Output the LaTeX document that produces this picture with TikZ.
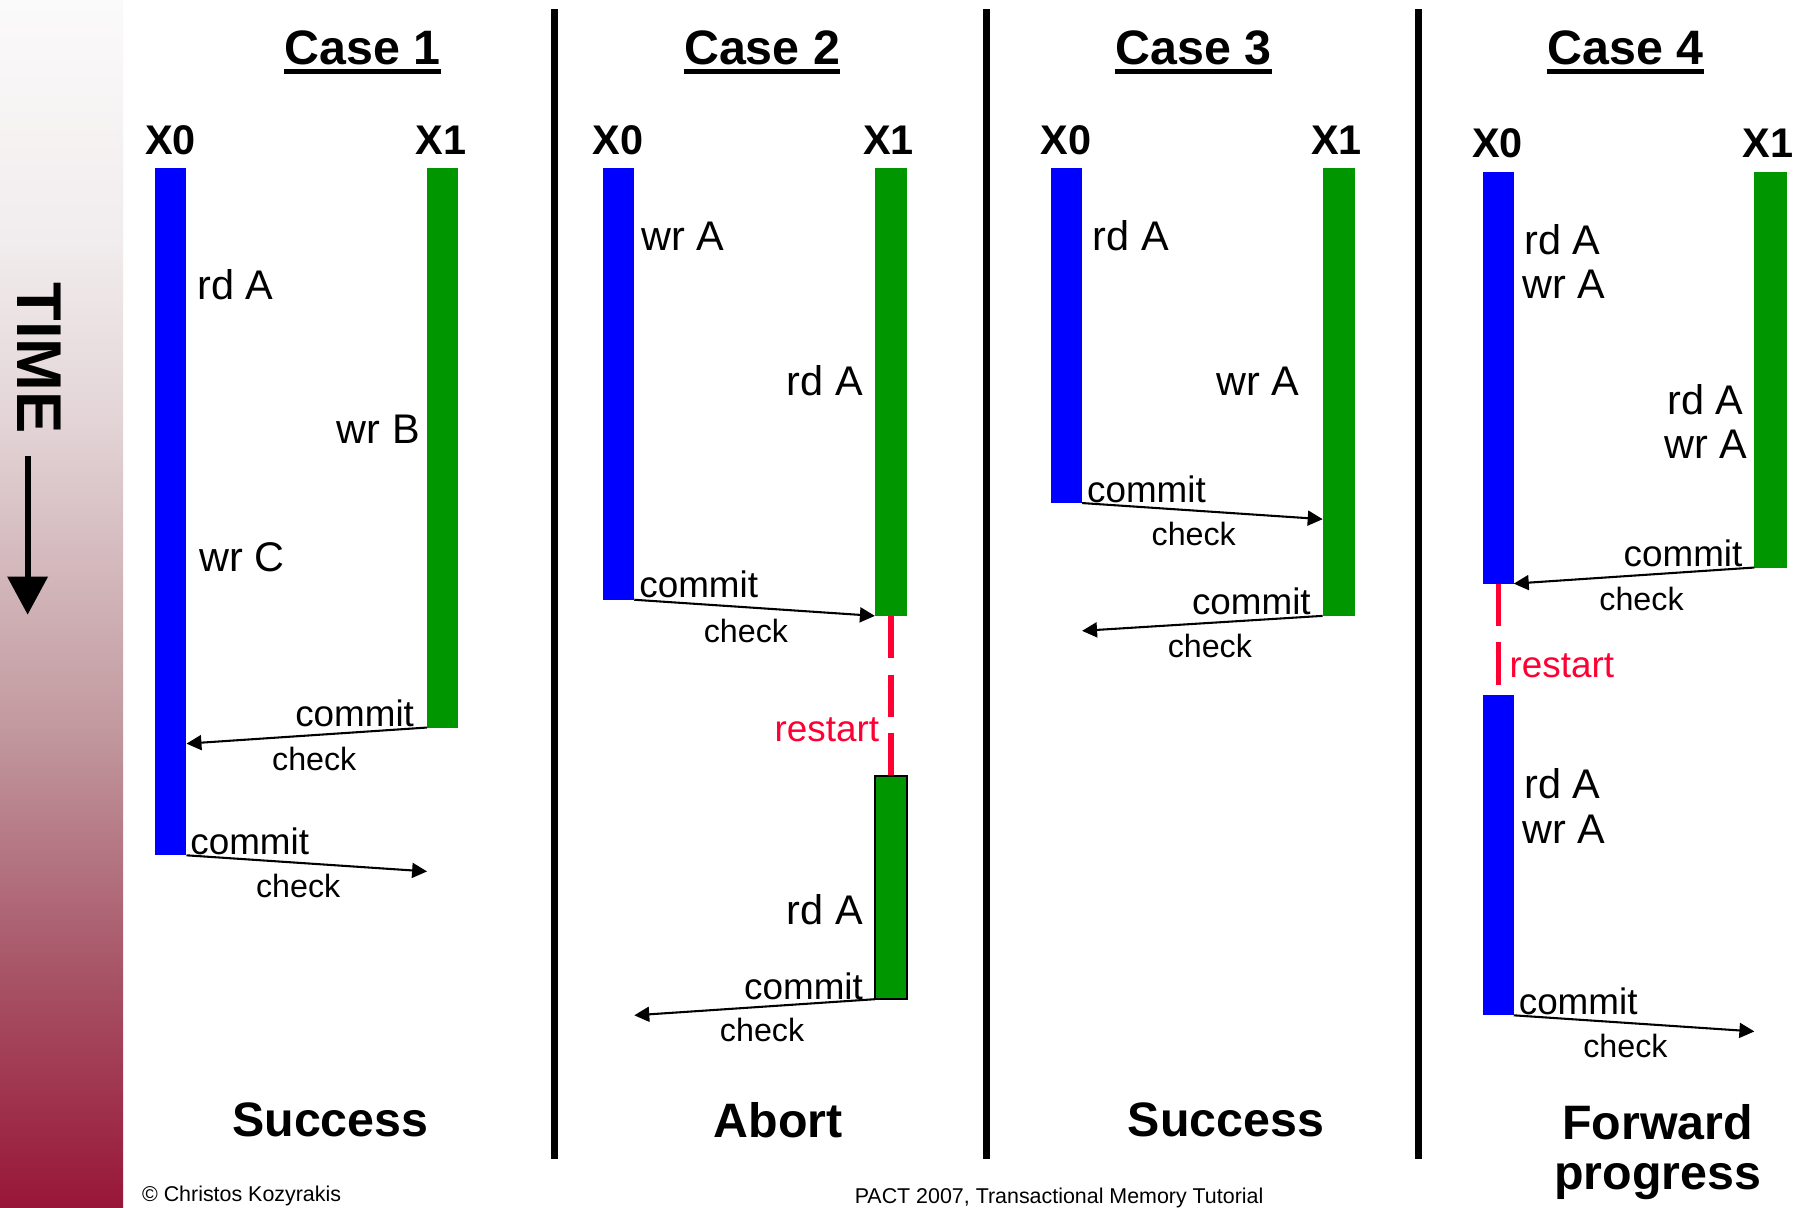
\documentclass[tikz,border=0pt]{standalone}
\usepackage{fontspec}
\setmainfont{Liberation Sans}
\usetikzlibrary{arrows.meta}

\definecolor{txblue}{RGB}{0,0,255}
\definecolor{txgreen}{RGB}{0,150,0}
\definecolor{txred}{RGB}{255,0,51}
\definecolor{tb0}{RGB}{152,22,55}
\definecolor{tb1}{RGB}{168,86,104}
\definecolor{tb2}{RGB}{194,154,160}
\definecolor{tb3}{RGB}{228,214,216}
\definecolor{tb4}{RGB}{241,236,237}
\definecolor{tb5}{RGB}{251,250,250}

% time bar fade: dark red at the bottom, near white at the top
\pgfdeclareverticalshading{timefade}{100bp}{color(0bp)=(tb0); color(25bp)=(tb0); color(35bp)=(tb1); color(45bp)=(tb2); color(58bp)=(tb3); color(65bp)=(tb4); color(75bp)=(tb5); color(100bp)=(tb5)}

\begin{document}
\begin{tikzpicture}[x=0.5pt,y=-0.5pt,
  optext/.style={inner sep=0pt, font=\fontsize{18}{20}\selectfont},
  commitlbl/.style={inner sep=0pt, font=\fontsize{16}{18}\selectfont},
  checklbl/.style={inner sep=0pt, font=\fontsize{14}{16}\selectfont},
  casetitle/.style={inner sep=0pt, font=\bfseries\fontsize{21}{24}\selectfont},
  cpulbl/.style={inner sep=0pt, font=\bfseries\fontsize{18}{20}\selectfont},
  outcome/.style={inner sep=0pt, font=\bfseries\fontsize{21}{24}\selectfont, align=center},
  restartlbl/.style={inner sep=0pt, text=txred, font=\fontsize{16}{18}\selectfont},
  msgarrow/.style={line width=0.9pt, -{Triangle[length=6.5pt,width=6.5pt]}},
  sepline/.style={line width=3pt},
  restartline/.style={txred, line width=2.2pt, dash pattern=on 18.5pt off 7pt},
  footlbl/.style={inner sep=0pt, font=\fontsize{9.3}{11}\selectfont},
]
\fill[white] (0,0) rectangle (1568,1049);
\useasboundingbox (0,0) rectangle (1568,1049);

% time axis on the left
\shade[shading=timefade] (0,0) rectangle (107,1049);
\node[rotate=-90, inner sep=0pt, font=\bfseries\fontsize{27.5}{30}\selectfont] (time) at (34,311) {TIME};
\coordinate (timetop) at (24,396);
\coordinate (timetip) at (24,534);
\draw[line width=2.6pt, -{Triangle[length=16.5pt,width=17pt]}] (timetop) -- (timetip);

% column separators
\draw[sepline] (482,8) -- (482,1007);
\draw[sepline] (857,8) -- (857,1007);
\draw[sepline] (1232,8) -- (1232,1007);

% ---------------- Case 1 ----------------
\node[casetitle, anchor=base] (t1) at (315,56) {Case 1};
\draw[line width=2.2pt] ([yshift=-3pt]t1.base west) -- ([yshift=-3pt]t1.base east);
\node[cpulbl, anchor=base] (p1a) at (148,134) {X0};
\node[cpulbl, anchor=base] (p1b) at (383,134) {X1};
\fill[txblue] (135,146) rectangle (162,743);
\fill[txgreen] (371,146) rectangle (398,632);
\node[optext, anchor=west] (o1a) at (171,247) {rd A};
\node[optext, anchor=east] (o1b) at (365,373) {wr B};
\node[optext, anchor=west] (o1c) at (173,484) {wr C};
\node[commitlbl, anchor=east] (m1a) at (360,620) {commit};
\coordinate (s1a) at (371,632);
\coordinate (e1a) at (162,646);
\draw[msgarrow] (s1a) -- (e1a);
\node[checklbl] (k1a) at (273,659) {check};
\node[commitlbl, anchor=west] (m1b) at (165,731) {commit};
\coordinate (s1b) at (162,743);
\coordinate (e1b) at (371,757);
\draw[msgarrow] (s1b) -- (e1b);
\node[checklbl] (k1b) at (259,770) {check};
\node[outcome] (r1) at (287,973) {Success};

% ---------------- Case 2 ----------------
\node[casetitle, anchor=base] (t2) at (662,56) {Case 2};
\draw[line width=2.2pt] ([yshift=-3pt]t2.base west) -- ([yshift=-3pt]t2.base east);
\node[cpulbl, anchor=base] (p2a) at (537,134) {X0};
\node[cpulbl, anchor=base] (p2b) at (772,134) {X1};
\fill[txblue] (524,146) rectangle (551,521);
\fill[txgreen] (760,146) rectangle (788,535);
\node[optext, anchor=west] (o2a) at (557,205) {wr A};
\node[optext, anchor=east] (o2b) at (750,331) {rd A};
\node[commitlbl, anchor=west] (m2a) at (555,508) {commit};
\coordinate (s2a) at (551,521);
\coordinate (e2a) at (760,535);
\draw[msgarrow] (s2a) -- (e2a);
\node[checklbl] (k2a) at (648,548) {check};
\coordinate (d2a) at (774,535);
\coordinate (d2b) at (774,674);
\draw[restartline] (d2a) -- (d2b);
\node[restartlbl, anchor=east] (rs2) at (764,634) {restart};
\draw[fill=txgreen, draw=black, line width=1pt] (760,674) rectangle (788,868);
\node[optext, anchor=east] (o2c) at (750,790) {rd A};
\node[commitlbl, anchor=east] (m2b) at (750,857) {commit};
\coordinate (s2b) at (760,868);
\coordinate (e2b) at (551,882);
\draw[msgarrow] (s2b) -- (e2b);
\node[checklbl] (k2b) at (662,895) {check};
\node[outcome] (r2) at (676,973) {Abort};

% ---------------- Case 3 ----------------
\node[casetitle, anchor=base] (t3) at (1037,56) {Case 3};
\draw[line width=2.2pt] ([yshift=-3pt]t3.base west) -- ([yshift=-3pt]t3.base east);
\node[cpulbl, anchor=base] (p3a) at (926,134) {X0};
\node[cpulbl, anchor=base] (p3b) at (1161,134) {X1};
\fill[txblue] (913,146) rectangle (940,437);
\fill[txgreen] (1149,146) rectangle (1177,535);
\node[optext, anchor=west] (o3a) at (949,205) {rd A};
\node[optext, anchor=east] (o3b) at (1129,331) {wr A};
\node[commitlbl, anchor=west] (m3a) at (944,425) {commit};
\coordinate (s3a) at (940,437);
\coordinate (e3a) at (1149,451);
\draw[msgarrow] (s3a) -- (e3a);
\node[checklbl] (k3a) at (1037,464) {check};
\node[commitlbl, anchor=east] (m3b) at (1139,522) {commit};
\coordinate (s3b) at (1149,535);
\coordinate (e3b) at (940,548);
\draw[msgarrow] (s3b) -- (e3b);
\node[checklbl] (k3b) at (1051,561) {check};
\node[outcome] (r3) at (1065,973) {Success};

% ---------------- Case 4 ----------------
\node[casetitle, anchor=base] (t4) at (1412,56) {Case 4};
\draw[line width=2.2pt] ([yshift=-3pt]t4.base west) -- ([yshift=-3pt]t4.base east);
\node[cpulbl, anchor=base] (p4a) at (1301,137) {X0};
\node[cpulbl, anchor=base] (p4b) at (1536,137) {X1};
\fill[txblue] (1288,149) rectangle (1315,507);
\fill[txgreen] (1524,149) rectangle (1552,493);
\node[optext, anchor=west] (o4a) at (1324,208) {rd A};
\node[optext, anchor=west] (o4b) at (1322,247) {wr A};
\node[optext, anchor=east] (o4c) at (1515,347) {rd A};
\node[optext, anchor=east] (o4d) at (1518,386) {wr A};
\node[commitlbl, anchor=east] (m4a) at (1514,481) {commit};
\coordinate (s4a) at (1524,493);
\coordinate (e4a) at (1315,507);
\draw[msgarrow] (s4a) -- (e4a);
\node[checklbl] (k4a) at (1426,520) {check};
\coordinate (d4a) at (1302,507);
\coordinate (d4b) at (1302,595);
\draw[restartline] (d4a) -- (d4b);
\node[restartlbl, anchor=west] (rs4) at (1311,578) {restart};
\fill[txblue] (1288,604) rectangle (1315,882);
\node[optext, anchor=west] (o4e) at (1324,681) {rd A};
\node[optext, anchor=west] (o4f) at (1322,720) {wr A};
\node[commitlbl, anchor=west] (m4b) at (1319,870) {commit};
\coordinate (s4b) at (1315,882);
\coordinate (e4b) at (1524,896);
\draw[msgarrow] (s4b) -- (e4b);
\node[checklbl] (k4b) at (1412,909) {check};
\node[outcome] (r4a) at (1440,975) {Forward};
\node[outcome] (r4b) at (1440,1026) {progress};

% footer
\node[footlbl, anchor=west] (copy) at (123,1039) {\textcopyright{} Christos Kozyrakis};
\node[footlbl] (venue) at (920,1041) {PACT 2007, Transactional Memory Tutorial};
\end{tikzpicture}
\end{document}
